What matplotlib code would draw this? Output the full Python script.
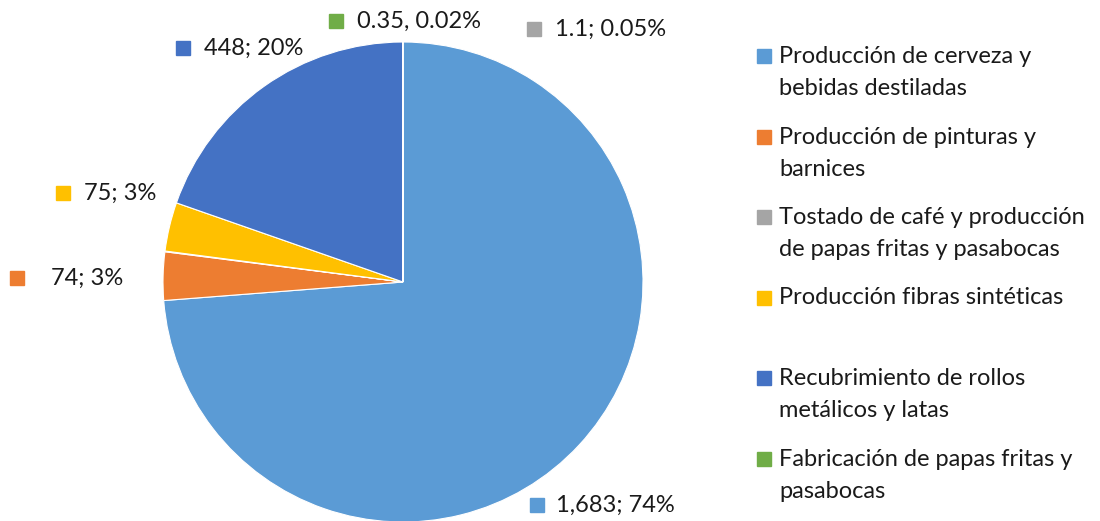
import matplotlib
matplotlib.use("Agg")
import matplotlib.pyplot as plt
from matplotlib.patches import Rectangle

plt.rcParams["font.family"] = ["Lato", "DejaVu Sans"]

categories = [
    "Producción de cerveza y\nbebidas destiladas",
    "Producción de pinturas y\nbarnices",
    "Tostado de café y producción\nde papas fritas y pasabocas",
    "Producción fibras sintéticas",
    "Recubrimiento de rollos\nmetálicos y latas",
    "Fabricación de papas fritas y\npasabocas",
]
values = [1683, 74, 1.1, 75, 448, 0.35]
value_labels = ["1,683; 74%", "74; 3%", "1.1; 0.05%", "75; 3%", "448; 20%", "0.35, 0.02%"]
colors = ["#5B9BD5", "#ED7D31", "#A5A5A5", "#FFC000", "#4472C4", "#70AD47"]

# label anchor (square left edge, centre y) in pixel coords, y measured from top
label_pos = [(530, 505), (10, 278), (527, 29), (56, 193), (176, 48), (329, 21)]
label_gap = [26, 41, 28, 28, 28, 28]

W, H = 1100, 521
fig = plt.figure(figsize=(W / 100, H / 100), dpi=100)
ax = fig.add_axes([0, 0, 1, 1])

ax.pie(values, colors=colors, startangle=90, counterclock=False,
       center=(403, H - 282), radius=240,
       wedgeprops=dict(edgecolor="white", linewidth=0.8))
ax.set_xlim(0, W)
ax.set_ylim(0, H)
ax.set_aspect("equal")
ax.axis("off")

sq = 14
fs = 17
for (x, y), gap, txt, c in zip(label_pos, label_gap, value_labels, colors):
    yy = H - y
    ax.add_patch(Rectangle((x, yy - sq / 2), sq, sq, color=c, clip_on=False))
    ax.text(x + gap, yy, txt, fontsize=fs, va="center", ha="left", color="#1a1a1a")

# legend, drawn by hand so the square sits on the first line
lx, ly0, step = 757, H - 56, 80.5
for i, (lab, c) in enumerate(zip(categories, colors)):
    yy = ly0 - i * step
    ax.add_patch(Rectangle((lx, yy - sq / 2), sq, sq, color=c, clip_on=False))
    ax.text(lx + 22, yy + 10, lab, fontsize=fs, va="top", ha="left",
            color="#1a1a1a", linespacing=1.65)

fig.savefig("out.png", dpi=100)
